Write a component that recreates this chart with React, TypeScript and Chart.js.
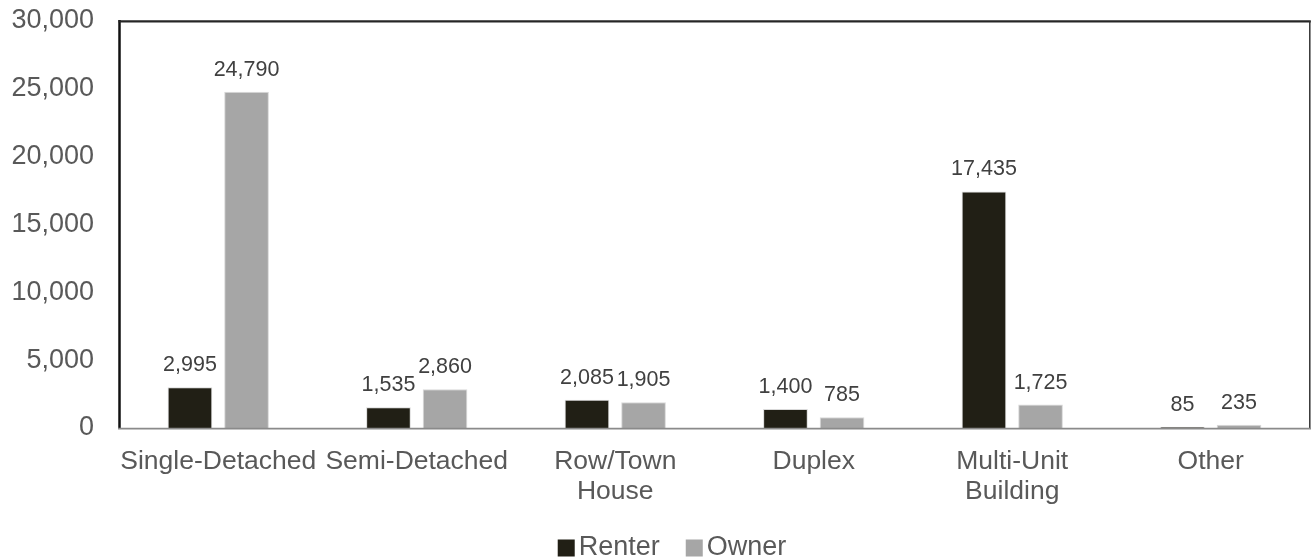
import { useEffect, useRef } from "react";
import { Chart, registerables } from "chart.js";

Chart.register(...registerables);

// Dwelling types along the x axis (nested arrays wrap onto two lines)
const categories: (string | string[])[] = [
  "Single-Detached",
  "Semi-Detached",
  ["Row/Town", "House"],
  "Duplex",
  ["Multi-Unit", "Building"],
  "Other",
];

const seriesNames = ["Renter", "Owner"];
const renterValues = [2995, 1535, 2085, 1400, 17435, 85];
const ownerValues = [24790, 2860, 1905, 785, 1725, 235];

const yMin = 0;
const yMax = 30000;
const yStep = 5000;

const FONT = '"Liberation Sans", Arial, Helvetica, sans-serif';
const RENTER_COLOR = "#211f15";
const OWNER_COLOR = "#a6a6a6";
const AXIS_TEXT = "#595959";
const LABEL_TEXT = "#404040";

// Plot frame: black left/top/right edges, grey baseline
const framePlugin = {
  id: "plotFrame",
  afterDatasetsDraw(chart: Chart) {
    const { ctx, chartArea } = chart;
    const { left, right, top, bottom } = chartArea;
    ctx.save();
    ctx.lineCap = "butt";
    // left edge
    ctx.strokeStyle = "#111111";
    ctx.lineWidth = 2.5;
    ctx.beginPath();
    ctx.moveTo(left + 0.5, top - 1);
    ctx.lineTo(left + 0.5, bottom);
    ctx.stroke();
    // top edge
    ctx.strokeStyle = "#262626";
    ctx.lineWidth = 2.2;
    ctx.beginPath();
    ctx.moveTo(left - 0.5, top + 0.3);
    ctx.lineTo(right + 0.8, top + 0.3);
    ctx.stroke();
    // right edge
    ctx.strokeStyle = "#333333";
    ctx.lineWidth = 1.5;
    ctx.beginPath();
    ctx.moveTo(right - 0.2, top);
    ctx.lineTo(right - 0.2, bottom);
    ctx.stroke();
    // baseline
    ctx.strokeStyle = "#8a8a8a";
    ctx.lineWidth = 1.6;
    ctx.beginPath();
    ctx.moveTo(left - 1, bottom + 0.6);
    ctx.lineTo(chart.width, bottom + 0.6);
    ctx.stroke();
    ctx.restore();
  },
};

// Value labels above each bar
const valueLabelPlugin = {
  id: "valueLabels",
  afterDatasetsDraw(chart: Chart) {
    const { ctx } = chart;
    ctx.save();
    ctx.font = `21.5px ${FONT}`;
    ctx.fillStyle = LABEL_TEXT;
    ctx.textAlign = "center";
    ctx.textBaseline = "middle";
    chart.data.datasets.forEach((ds, i) => {
      const meta = chart.getDatasetMeta(i);
      meta.data.forEach((el: any, j: number) => {
        const v = ds.data[j] as number;
        ctx.fillText(v.toLocaleString("en-US"), el.x, el.y - 22);
      });
    });
    ctx.restore();
  },
};

// Legend drawn along the bottom edge
const legendPlugin = {
  id: "bottomLegend",
  afterDraw(chart: Chart) {
    const { ctx } = chart;
    const box = 17;
    const boxGap = 4;
    const itemGap = 26;
    const centerX = 672;
    const midY = 548;
    ctx.save();
    ctx.font = `27px ${FONT}`;
    const items = chart.data.datasets.map((ds) => ({
      text: ds.label as string,
      color: ds.backgroundColor as string,
      w: ctx.measureText(ds.label as string).width,
    }));
    const total =
      items.reduce((s, it) => s + box + boxGap + it.w, 0) + itemGap * (items.length - 1);
    let x = centerX - total / 2;
    ctx.textAlign = "left";
    ctx.textBaseline = "middle";
    items.forEach((it) => {
      ctx.fillStyle = it.color;
      ctx.fillRect(x, midY - box / 2, box, box);
      x += box + boxGap;
      ctx.fillStyle = AXIS_TEXT;
      ctx.fillText(it.text, x, midY);
      x += it.w + itemGap;
    });
    ctx.restore();
  },
};

export default function App() {
  const canvasRef = useRef<HTMLCanvasElement>(null);

  useEffect(() => {
    document.body.style.margin = "0";
    const canvas = canvasRef.current;
    if (!canvas) return;

    const chart = new Chart(canvas, {
      type: "bar",
      data: {
        labels: categories,
        datasets: [
          {
            label: seriesNames[0],
            data: renterValues,
            backgroundColor: RENTER_COLOR,
            borderColor: "#d9d9d9",
            borderWidth: 1,
            categoryPercentage: 0.57,
            barPercentage: 0.79,
          },
          {
            label: seriesNames[1],
            data: ownerValues,
            backgroundColor: OWNER_COLOR,
            borderColor: "#d9d9d9",
            borderWidth: 1,
            categoryPercentage: 0.57,
            barPercentage: 0.79,
          },
        ],
      },
      options: {
        responsive: false,
        animation: false,
        devicePixelRatio: 1,
        layout: { padding: { top: 21, right: 1, left: 0, bottom: 0 } },
        plugins: {
          legend: { display: false },
          tooltip: { enabled: false },
        },
        scales: {
          x: {
            grid: { display: false, drawTicks: false },
            border: { display: false },
            ticks: {
              color: AXIS_TEXT,
              font: { family: FONT, size: 26.5, lineHeight: 1.15 },
              padding: 18,
              autoSkip: false,
              maxRotation: 0,
              minRotation: 0,
            },
            afterFit: (scale: any) => {
              scale.height = 130;
              scale.paddingTop = 0;
              scale.paddingBottom = 0;
            },
          },
          y: {
            min: yMin,
            max: yMax,
            grid: { display: false, drawTicks: false },
            border: { display: false },
            ticks: {
              stepSize: yStep,
              color: AXIS_TEXT,
              font: { family: FONT, size: 27 },
              padding: 25,
            },
            afterFit: (scale: any) => {
              scale.width = 119;
              scale.paddingTop = 0;
              scale.paddingBottom = 0;
            },
          },
        },
      },
      plugins: [framePlugin, valueLabelPlugin, legendPlugin],
    });

    return () => chart.destroy();
  }, []);

  return (
    <canvas
      ref={canvasRef}
      width={1311}
      height={558}
      style={{ display: "block", width: 1311, height: 558 }}
    />
  );
}
